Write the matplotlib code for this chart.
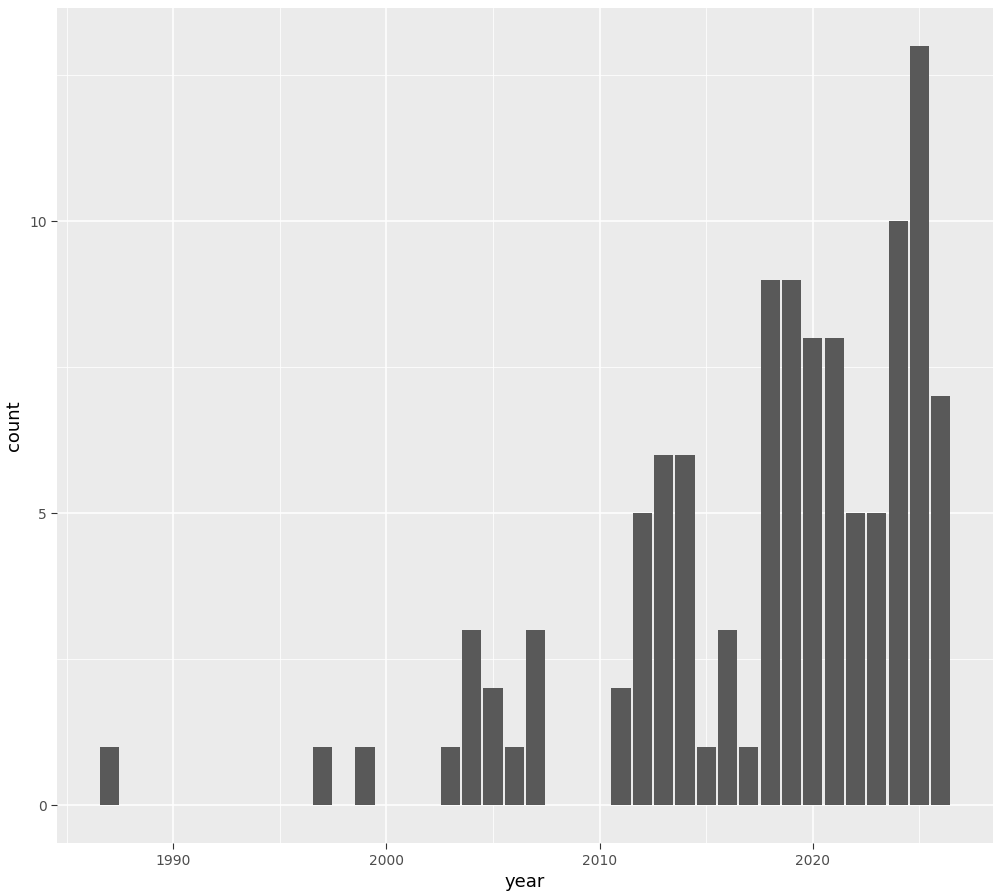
import matplotlib.pyplot as plt
import numpy as np

# counts per year
years = [1987, 1997, 1999, 2003, 2004, 2005, 2006, 2007, 2011, 2012, 2013, 2014,
         2015, 2016, 2017, 2018, 2019, 2020, 2021, 2022, 2023, 2024, 2025, 2026]
counts = [1, 1, 1, 1, 3, 2, 1, 3, 2, 5, 6, 6,
          1, 3, 1, 9, 9, 8, 8, 5, 5, 10, 13, 7]

fig = plt.figure(figsize=(10, 8.96), dpi=100)
ax = fig.add_axes([0.057, 0.059, 0.936, 0.932])
ax.set_facecolor('#EBEBEB')

ax.bar(years, counts, width=0.9, color='#595959', zorder=3)

ax.set_xlim(1984.55, 2028.45)
ax.set_ylim(-0.65, 13.65)
ax.set_xticks([1990, 2000, 2010, 2020])
ax.set_yticks([0, 5, 10])
ax.set_xticks([1985, 1995, 2005, 2015, 2025], minor=True)
ax.set_yticks([2.5, 7.5, 12.5], minor=True)
ax.grid(True, which='major', color='white', linewidth=1.1, zorder=0)
ax.grid(True, which='minor', color='white', linewidth=0.55, zorder=0)
ax.tick_params(which='minor', length=0)
ax.tick_params(which='major', length=4, color='#333333', labelsize=10, labelcolor='#4D4D4D')
for s in ax.spines.values():
    s.set_visible(False)

ax.set_xlabel('year', fontsize=13)
ax.set_ylabel('count', fontsize=13)

fig.savefig('out.png', dpi=100)
